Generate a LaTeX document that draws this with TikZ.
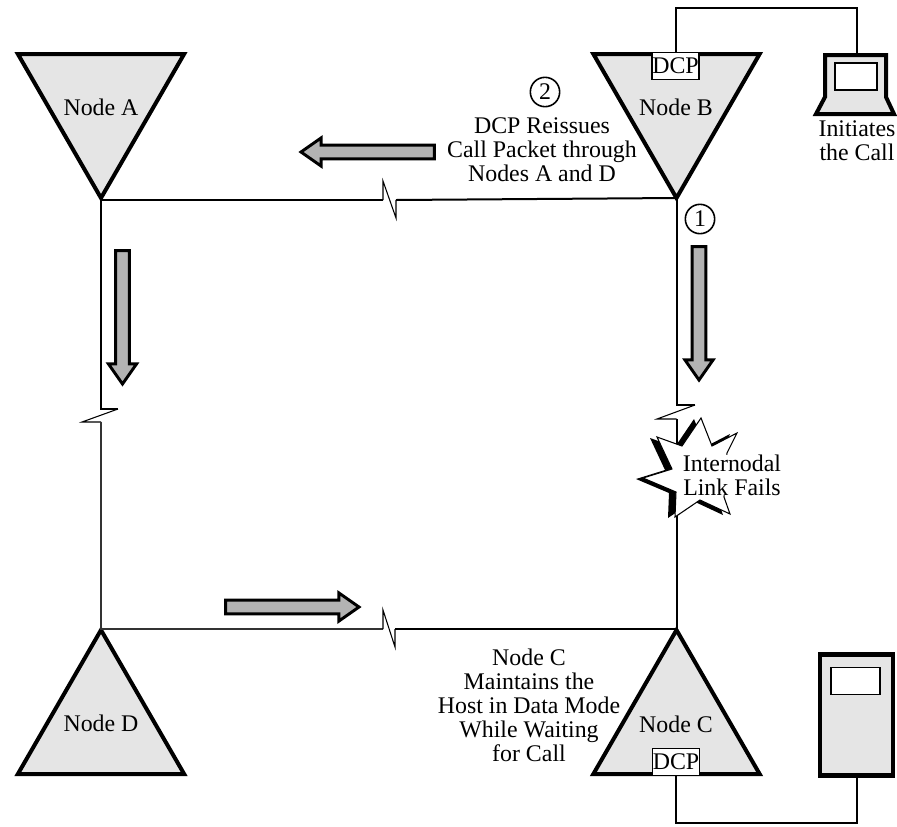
\documentclass[tikz,border=0pt]{standalone}
\usepackage{fontspec}
\setmainfont{Liberation Serif}
\usetikzlibrary{shapes.geometric,shapes.arrows}
\definecolor{nodegray}{HTML}{E5E5E5}
\definecolor{arrowgray}{HTML}{B3B3B3}
\newcommand{\burstpath}{(701,418) -- (712,446) -- (737,433) -- (727,453) -- (725,475) -- (724,497) -- (730,514) -- (700,500) -- (675,517) -- (676,492) -- (643,478) -- (672,469) -- (657,437) -- (682,446) -- cycle}
\tikzset{
  every node/.style={font=\fontsize{17.9}{18}\selectfont, align=center, inner sep=0pt, outer sep=0pt},
  nodeup/.style={draw, fill=nodegray, line width=3pt, regular polygon, regular polygon sides=3, minimum size=144pt},
  nodedown/.style={nodeup, shape border rotate=180},
  dcpbox/.style={draw, fill=white, line width=1.2pt, minimum width=35pt, minimum height=20pt},
  screenbox/.style={draw, fill=white, line width=1.2pt},
  stepmark/.style={draw, circle, line width=1.2pt, minimum size=22pt},
  blockarrow/.style={draw, fill=arrowgray, line width=2.2pt, single arrow, anchor=tip, inner sep=4.1pt, single arrow head extend=5.4pt, single arrow head indent=0pt, single arrow tip angle=70, minimum height=100pt},
  link/.style={line width=1.5pt},
  thinlink/.style={line width=.8pt, black!80}
}
\begin{document}
\begin{tikzpicture}[x=0.75pt, y=-0.75pt]
    \useasboundingbox (0,0) rectangle (897,826);
    % Nodes
    \node[nodedown] (nodea) at (101,102) {};
    \node[nodedown] (nodeb) at (676.5,102) {};
    \node[nodeup] (nodec) at (676.5,726) {};
    \node[nodeup] (noded) at (101,726) {};
    \node at (101,107) {Node A};
    \node at (676,107) {Node B};
    \node at (676,724) {Node C};
    \node at (101,723) {Node D};
    % Link A-B
    \draw[link] (nodea.corner 1) |- (383,200);
    \draw[thinlink, black] (383,200) -- (383,181) -- (396,218) -- (396,200);
    \draw[link] (396,200) -- (nodeb.corner 1);
    % Link A-D
    \draw[link] (nodea.corner 1) |- (118,409);
    \draw[thinlink, black] (118,409) -- (82,422) -- (101,422);
    \draw[thinlink] (101,422) -- (noded.corner 1);
    % Link D-C
    \draw[thinlink] (noded.corner 1) |- (383,629);
    \draw[thinlink, black] (383,629) -- (383,610) -- (395,647) -- (395,629);
    \draw[link] (395,629) -| (nodec.corner 1);
    % Link B-C
    \draw[link] (nodeb.corner 1) |- (695,405);
    \draw[thinlink, black] (695,405) -- (657,419) -- (676.5,419);
    \draw[link] (676.5,419) -- (nodec.corner 1);
    % Failure burst
    \fill[shift={(-7,1)}] \burstpath;
    \draw[fill=white, line width=.8pt] \burstpath;
    \node[fill=white] (fails) at (732,475) {Internodal\\Link Fails};
    % Block arrows
    \node[blockarrow, shape border rotate=180] (arrowab) at (301,152) {};
    \node[blockarrow, shape border rotate=270] (arrowad) at (122.5,384) {};
    \node[blockarrow, shape border rotate=270] (arrowbc) at (699,380) {};
    \node[blockarrow] (arrowdc) at (359,607) {};
    % Steps
    \node[stepmark] (stepone) at (700,219) {1};
    \node[stepmark] (steptwo) at (545,92) {2};
    \node (reissue) at (542,150) {DCP Reissues\\Call Packet through\\Nodes A and D};
    \node (maintain) at (529,705) {Node C\\Maintains the\\Host in Data Mode\\While Waiting\\for Call};
    % Laptop
    \draw[fill=nodegray, line width=3pt, line join=miter] (825,55) -- (886,55) -- (886,97) -- (894,114) -- (816,114) -- (825,97) -- cycle;
    \node[screenbox, minimum width=31.5pt, minimum height=20pt] (laptopscreen) at (856,76.5) {};
    \coordinate (laptoptop) at (857,53);
    \node (initiates) at (857,141) {Initiates\\the Call};
    % Terminal
    \node[draw, fill=nodegray, line width=3.4pt, minimum width=55pt, minimum height=90.5pt] (terminal) at (856.5,715) {};
    \node[screenbox, minimum width=37pt, minimum height=20pt] (terminalscreen) at (855.5,681) {};
    % DCP boxes and wires
    \node[dcpbox] (dcpb) at (675.5,66) {DCP};
    \node[dcpbox] (dcpc) at (676,762) {DCP};
    \draw[link] (dcpb.north) |- (857,8) -- (laptoptop);
    \draw[link] (dcpc.south) |- (857,823) -- (857,777);
\end{tikzpicture}
\end{document}
